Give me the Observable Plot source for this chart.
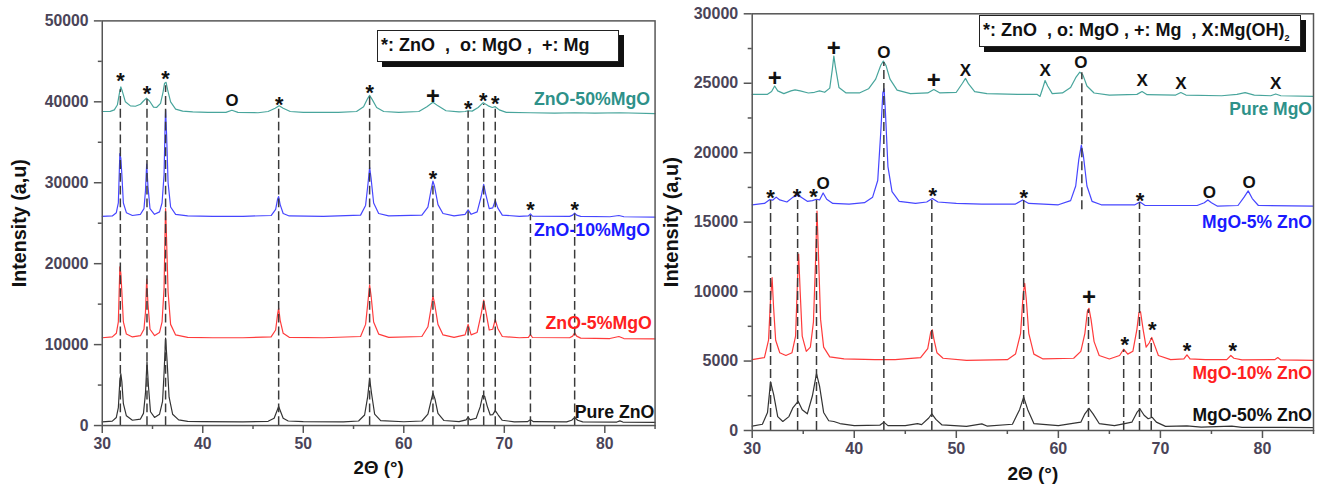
<!DOCTYPE html>
<html><head><meta charset="utf-8">
<script src="https://cdn.jsdelivr.net/npm/d3@7"></script>
<script src="https://cdn.jsdelivr.net/npm/@observablehq/plot@0.6"></script>
<style>
body{margin:0;background:#fff;}
#wrap{position:relative;width:1317px;height:488px;overflow:hidden;background:#fff;font-family:"Liberation Sans",Arial,sans-serif;}
#left{position:absolute;left:0;top:0;width:660px;height:488px;overflow:hidden;}
#right{position:absolute;left:660px;top:0;width:657px;height:488px;overflow:hidden;}
.legend{position:absolute;background:#fff;border:1.5px solid #222;box-shadow:5px 5px 0 #111;font-weight:bold;font-size:18px;color:#111;white-space:pre;box-sizing:border-box;padding-left:3px;line-height:29px;}
.legend sub{font-size:9px;vertical-align:-5px;line-height:0;}
</style></head><body>
<div id="wrap">
<div id="left"></div><div id="right"></div>
<div class="legend" style="left:377px;top:30px;width:242px;height:32px;">*: ZnO  ,  o: MgO ,  +: Mg</div>
<div class="legend" style="left:979px;top:15px;width:322px;height:32px;">*: ZnO  , o: MgO , +: Mg  , X:Mg(OH)<sub>2</sub></div>
</div>
<script>
// ---------- DATA ----------
const xTicks = [30, 40, 50, 60, 70, 80];
const xMinor = [35, 45, 55, 65, 75, 85];
const leftYTicks = [0, 10000, 20000, 30000, 40000, 50000];
const leftYMinor = [5000, 15000, 25000, 35000, 45000];
const rightYTicks = [0, 5000, 10000, 15000, 20000, 25000, 30000];
const rightYMinor = [2500, 7500, 12500, 17500, 22500, 27500];

// Left panel: ZnO-based samples [2θ, intensity]
const pureZnO = [[30,450],[31.0,550],[31.4,1000],[31.6,2200],[31.75,5500],[31.85,6400],[31.95,5400],[32.1,2700],[32.4,1200],[33.0,650],[33.8,800],[34.1,1500],[34.3,4000],[34.45,7900],[34.6,4800],[34.8,1700],[35.2,1000],[35.7,1400],[36.0,3000],[36.15,6500],[36.3,10800],[36.45,8000],[36.65,3500],[37.0,1400],[37.6,700],[38.5,520],[40,480],[44,460],[46.5,520],[47.1,900],[47.35,1700],[47.55,2350],[47.75,1700],[48.0,900],[48.5,560],[50,480],[54,460],[55.5,560],[56.1,1300],[56.4,3500],[56.6,5800],[56.8,3900],[57.1,1400],[57.7,600],[60,470],[61.8,560],[62.4,1400],[62.7,3000],[62.9,4000],[63.1,3300],[63.4,1500],[64,620],[65.5,480],[66.2,700],[66.4,1050],[66.6,700],[67.2,900],[67.6,2300],[67.85,3700],[68.05,3600],[68.3,2400],[68.6,1300],[68.85,1350],[69.1,1850],[69.4,1300],[69.8,650],[71,460],[72.3,480],[72.6,730],[72.9,480],[76.2,450],[76.7,650],[77.0,1000],[77.3,650],[77.8,450],[81.2,430],[81.5,580],[81.8,430],[85,400]];
const zno5MgO = [[30,10850],[31.0,10950],[31.4,11400],[31.6,12800],[31.75,19600],[31.85,18800],[31.95,16500],[32.1,12800],[32.4,11300],[33.0,10950],[33.8,11100],[34.15,11900],[34.3,14000],[34.42,18100],[34.55,15000],[34.75,11900],[35.2,11100],[35.7,11500],[35.95,12800],[36.15,17000],[36.25,24000],[36.3,26800],[36.4,23000],[36.55,16500],[36.8,12500],[37.3,11200],[38.5,10900],[41,10850],[44,10850],[46.8,10950],[47.25,11800],[47.45,13800],[47.55,14500],[47.7,13000],[48.0,11400],[48.6,10900],[52,10850],[55.7,11000],[56.2,12500],[56.45,15500],[56.6,17400],[56.75,16000],[57.0,12800],[57.5,11300],[58.5,10900],[61.8,11000],[62.4,12200],[62.75,14800],[62.9,16000],[63.05,15200],[63.4,12500],[63.9,11200],[65,10900],[66.1,11200],[66.4,12500],[66.7,11200],[67.3,11500],[67.7,13800],[67.95,15500],[68.15,14200],[68.5,11800],[68.85,11900],[69.1,13100],[69.35,12000],[69.8,11000],[71.5,10850],[72.4,10900],[72.6,11250],[72.8,10880],[76.5,10850],[76.8,11050],[77.0,11450],[77.2,11050],[77.6,10800],[80.5,10750],[81.4,11000],[81.9,10750],[85,10700]];
const zno10MgO = [[30,25850],[31.0,25900],[31.4,26300],[31.6,27500],[31.75,33600],[31.85,33000],[31.95,31000],[32.1,27500],[32.4,26300],[33.0,25950],[33.8,26100],[34.15,26800],[34.3,29000],[34.42,32300],[34.55,29500],[34.75,26800],[35.2,26100],[35.7,26400],[35.95,27500],[36.15,31000],[36.25,37000],[36.3,39000],[36.4,36000],[36.55,30000],[36.8,27000],[37.3,26100],[38.5,25900],[41,25850],[44,25850],[46.8,25950],[47.25,26700],[47.45,28000],[47.55,28300],[47.7,27300],[48.0,26200],[48.6,25900],[52,25850],[55.7,26000],[56.2,27200],[56.45,30000],[56.6,31900],[56.75,30500],[57.0,27500],[57.5,26200],[58.5,25900],[61.8,26000],[62.4,27000],[62.75,29300],[62.9,30200],[63.05,29600],[63.4,27300],[63.9,26200],[65,25900],[66.1,26100],[66.4,26650],[66.7,26100],[67.3,26400],[67.7,28300],[67.95,29800],[68.15,28600],[68.5,26800],[68.85,26900],[69.1,27800],[69.35,26900],[69.8,26000],[71.5,25850],[72.4,25900],[72.6,26150],[72.8,25880],[76.5,25850],[76.8,26000],[77.0,26250],[77.2,26000],[77.6,25850],[80.5,25800],[81.4,25950],[81.9,25800],[85,25750]];
const zno50MgO = [[30,38800],[30.8,38820],[31.2,39000],[31.5,39600],[31.7,41000],[31.85,41850],[32.0,41300],[32.3,40000],[32.8,39500],[33.3,39450],[33.8,39700],[34.1,40100],[34.4,40450],[34.7,40100],[35.1,39350],[35.4,39300],[35.8,39800],[36.05,41200],[36.2,42300],[36.35,42400],[36.5,41500],[36.8,40000],[37.3,39100],[38,38850],[39,38750],[40.5,38700],[42.3,38700],[42.9,38950],[43.5,38700],[45.5,38650],[46.5,38800],[47.2,39200],[47.6,39500],[48.0,39200],[48.7,38800],[50,38700],[53.5,38700],[55.3,38800],[56.0,39400],[56.4,40400],[56.6,40800],[56.85,40300],[57.3,39300],[58,38800],[59.5,38700],[61.5,38800],[62.3,39400],[62.9,39950],[63.4,39500],[64.2,38900],[65.5,38750],[66.1,38800],[66.4,38900],[66.8,38850],[67.4,39300],[67.9,39900],[68.4,39500],[68.8,39300],[69.1,39400],[69.5,39000],[70.2,38700],[72.6,38650],[75,38600],[77,38650],[79,38600],[81.5,38650],[85,38550]];

// Right panel: MgO-based samples
const mgo50ZnO = [[30,320],[31.0,450],[31.5,1300],[31.8,3500],[32.1,2600],[32.5,1000],[33.0,650],[33.6,1000],[34.0,1650],[34.5,2100],[34.9,1500],[35.4,1200],[35.9,2500],[36.3,4100],[36.6,3200],[37.0,1300],[37.5,700],[38.0,650],[38.6,500],[40,350],[42.5,380],[42.9,600],[43.3,350],[45,350],[46.2,500],[46.6,420],[47.3,900],[47.6,1200],[48.0,800],[48.6,400],[51,300],[52.5,480],[53,320],[55.5,450],[56.2,1500],[56.6,2400],[57.0,1500],[57.6,500],[60,350],[62.2,600],[62.6,1200],[63.0,1600],[63.4,1200],[64,500],[65.5,350],[66.5,500],[67.2,600],[67.7,1300],[68.0,1550],[68.4,1100],[68.8,850],[69.2,950],[69.6,600],[70.5,300],[72.6,330],[74,250],[77,320],[78,230],[82,230],[85,200]];
const mgo10ZnO = [[30,5100],[31.2,5250],[31.6,6500],[31.8,9500],[31.95,11000],[32.1,8800],[32.3,6500],[32.7,5600],[33.3,5400],[33.9,5600],[34.25,6800],[34.45,11000],[34.55,12700],[34.7,10000],[34.9,6800],[35.3,5700],[35.7,6000],[36.0,7800],[36.2,12000],[36.35,15800],[36.5,12500],[36.7,8000],[37.0,6000],[37.6,5300],[39,5150],[42,5100],[44,5100],[46.5,5250],[47.2,5900],[47.5,7100],[47.65,7250],[47.8,6600],[48.1,5600],[48.7,5200],[51,5050],[55,5100],[55.8,5500],[56.3,7000],[56.55,9800],[56.7,10600],[56.85,9500],[57.1,7000],[57.6,5500],[58.5,5150],[61.5,5200],[62.2,5700],[62.6,7000],[62.85,8600],[63.0,8800],[63.2,8000],[63.5,6400],[64.0,5400],[65,5150],[66.0,5400],[66.4,5850],[66.8,5500],[67.3,5700],[67.7,7300],[67.9,8500],[68.05,8550],[68.3,7300],[68.6,6000],[68.9,6300],[69.15,6700],[69.4,6200],[69.8,5400],[71,5100],[72.3,5150],[72.6,5450],[72.9,5150],[74.4,5100],[76.5,5100],[76.9,5400],[77.2,5200],[78,5080],[81.2,5100],[81.5,5250],[81.8,5080],[85,5050]];
const mgo5ZnO = [[30,16250],[31.2,16350],[31.7,16620],[32.0,16580],[32.35,16800],[32.7,16600],[33.4,16450],[34.0,16800],[34.4,16930],[34.8,16800],[35.4,16500],[35.9,16550],[36.3,16650],[36.6,16600],[36.95,17100],[37.3,16650],[37.9,16350],[39.5,16300],[41,16400],[41.8,16800],[42.3,18000],[42.6,21500],[42.8,24300],[42.92,24600],[43.05,23000],[43.3,19000],[43.7,17200],[44.4,16500],[46,16350],[47.1,16450],[47.65,16700],[48.2,16450],[50,16350],[52.5,16300],[55.8,16300],[56.5,16600],[57.1,16350],[60,16250],[61.2,16550],[61.7,17600],[62.0,19500],[62.25,20550],[62.45,19800],[62.8,17600],[63.3,16500],[64.2,16250],[67.5,16250],[68.0,16450],[68.5,16200],[73.6,16200],[74.3,16400],[74.65,16600],[75.0,16400],[75.6,16150],[77.6,16200],[78.2,16800],[78.6,17250],[79.0,16700],[79.6,16200],[85,16150]];
const pureMgO = [[30,24200],[31.5,24200],[31.9,24400],[32.2,24800],[32.5,24450],[33.1,24250],[33.8,24450],[34.2,24520],[34.7,24450],[35.5,24300],[36.1,24350],[36.6,24450],[37.1,24350],[37.6,24650],[37.85,26000],[38.0,26950],[38.15,26200],[38.5,24700],[39.2,24300],[40.5,24300],[41.4,24600],[42.1,25300],[42.6,26300],[42.85,26600],[43.1,26300],[43.5,25300],[44.2,24500],[45.5,24250],[47.2,24300],[47.8,24550],[48.4,24300],[50.0,24350],[50.6,25000],[50.9,25350],[51.2,24950],[51.8,24400],[53,24250],[56,24200],[57.9,24200],[58.2,24050],[58.45,24600],[58.7,25200],[58.95,24800],[59.4,24250],[60.4,24300],[61.2,24700],[61.7,25400],[62.1,25800],[62.4,25600],[62.8,24800],[63.5,24300],[65,24150],[67.7,24200],[68.2,24400],[68.7,24180],[71.5,24150],[72.0,24330],[72.5,24150],[76,24100],[77.5,24200],[78.3,24320],[79.2,24150],[80.8,24100],[81.3,24230],[81.8,24100],[85,24050]];

// Reference (dashed) lines
const leftRefX  = [31.8, 34.45, 36.3, 47.55, 56.6, 62.9, 66.4, 67.95, 69.1, 72.6, 77.0];
const leftRefLo = [0, 0, 0, 0, 0, 0, 0, 0, 0, 0, 0];
const leftRefHi = [41500, 40300, 42000, 39300, 40600, 29800, 38850, 39700, 39300, 25950, 26150];
const rightRefX  = [31.8, 34.45, 36.3, 42.9, 47.6, 56.6, 62.3, 62.95, 66.4, 67.95, 69.1];
const rightRefLo = [0, 0, 0, 0, 0, 0, 15900, 0, 0, 0, 0];
const rightRefHi = [16550, 16850, 16600, 26500, 16650, 16550, 25750, 8700, 5800, 16400, 6600];

// Phase symbols [symbol, 2θ, intensity]
const leftSymbols = [["*",31.8,43200],["*",34.45,41650],["*",36.3,43500],["O",42.9,40100],["*",47.6,40300],["*",56.6,41750],["+",62.9,40800],["*",66.4,39800],["*",67.9,40800],["*",69.1,40400],["*",62.9,31150],["*",72.6,27350],["*",77.0,27350]];
const rightSymbols = [["+",32.2,25400],["+",38.0,27560],["O",42.9,27180],["+",47.8,25260],["X",50.9,25930],["X",58.7,25930],["O",62.2,26460],["X",68.2,25200],["X",72.0,24950],["X",81.3,24980],
  ["*",31.8,17150],["*",34.4,17200],["*",36.0,17200],["O",36.95,17750],["*",47.7,17300],["*",56.6,17130],["*",68.0,16900],["O",74.8,17120],["O",78.7,17850],
  ["+",63.0,9640],["*",66.5,6580],["*",69.2,7600],["*",72.6,6100],["*",77.1,6100]];

// Sample labels [text, 2θ, intensity]
const leftLabels = [["ZnO-50%MgO",72.95,40340],["ZnO-10%MgO",72.95,24150],["ZnO-5%MgO",74.1,12670],["Pure ZnO",77.0,1580]];
const rightLabels = [["Pure MgO",84.85,23130],["MgO-5% ZnO",84.85,14980],["MgO-10% ZnO",84.85,4080],["MgO-50% ZnO",84.85,1080]];

const colors = {black: "#333333", red: "#ff3b3b", blue: "#4646ff", teal: "#48a59c"};
const labelColors = {black: "#111111", red: "#ff2020", blue: "#1a1aff", teal: "#2e9189"};
const leftSeries = [[pureZnO,"black"],[zno5MgO,"red"],[zno10MgO,"blue"],[zno50MgO,"teal"]];
const rightSeries = [[mgo50ZnO,"black"],[mgo10ZnO,"red"],[mgo5ZnO,"blue"],[pureMgO,"teal"]];
const leftLabelColors = ["teal","blue","red","black"];
const rightLabelColors = ["teal","blue","red","black"];

// ---------- CHART ----------
const FONT = '"Liberation Sans", Arial, sans-serif';
const intFmt = d3.format("d");
function panel(cfg) {
  const refs = cfg.refX.map((x, i) => ({x, lo: cfg.refLo[i], hi: cfg.refHi[i]}));
  const syms = cfg.symbols.map(([t, x, y]) => ({t, x, y}));
  const labs = cfg.labels.map(([t, x, y], i) => ({t, x, y, c: labelColors[cfg.labelColors[i]]}));
  return Plot.plot({
    width: cfg.width, height: 488,
    marginLeft: cfg.ml, marginRight: cfg.mr, marginTop: cfg.mt, marginBottom: cfg.mb,
    style: {fontFamily: FONT, background: "white", overflow: "hidden"},
    x: {domain: [30, 85]},
    y: {domain: cfg.ydomain},
    marks: [
      ...cfg.series.map(([d, c]) => Plot.line(d, {x: p => p[0], y: p => p[1], stroke: colors[c], strokeWidth: 1.2})),
      Plot.ruleX(refs, {x: "x", y1: "lo", y2: "hi", stroke: "#3a3a3a", strokeWidth: 1.5, strokeDasharray: "9,4"}),
      Plot.text(syms.filter(d => d.t === "*"), {x: "x", y: "y", text: "t", fontSize: 22, fontWeight: "bold", fill: "#111", dy: 5.5}),
      Plot.text(syms.filter(d => d.t === "+"), {x: "x", y: "y", text: "t", fontSize: 24, fontWeight: "bold", fill: "#111", dy: 1}),
      Plot.text(syms.filter(d => d.t === "O" || d.t === "X"), {x: "x", y: "y", text: "t", fontSize: 17, fontWeight: "bold", fill: "#111"}),
      Plot.text(labs, {x: "x", y: "y", text: "t", fill: "c", fontSize: cfg.labelSize, fontWeight: "bold", textAnchor: cfg.labelAnchor}),
      Plot.frame({stroke: "#555", strokeWidth: 1.5}),
      Plot.axisX({ticks: xTicks, tickSize: 8, tickPadding: 4, fontSize: 16, fontWeight: "bold", color: "#4a4458", stroke: "#555", strokeWidth: 1.5, label: null, tickFormat: intFmt}),
      Plot.axisX({ticks: xMinor, tickSize: 4, tickFormat: () => "", stroke: "#555", strokeWidth: 1.5, label: null}),
      Plot.axisY({ticks: cfg.yTicks, tickSize: 8, tickPadding: 6, fontSize: 16, fontWeight: "bold", color: "#4a4458", stroke: "#555", strokeWidth: 1.5, label: null, tickFormat: intFmt}),
      Plot.axisY({ticks: cfg.yMinor, tickSize: 4, tickFormat: () => "", stroke: "#555", strokeWidth: 1.5, label: null}),
      Plot.text(["Intensity (a,u)"], {frameAnchor: "left", dx: cfg.ylabDx, rotate: -90, textAnchor: "middle", lineAnchor: "middle", fontSize: 20, fontWeight: "bold", fill: "#111"}),
      Plot.text(["2Θ (°)"], {frameAnchor: "bottom", dy: 43, textAnchor: "middle", lineAnchor: "middle", fontSize: 19, fontWeight: "bold", fill: "#111"})
    ]
  });
}

document.getElementById("left").append(panel({
  width: 670, ml: 103.3, mr: 5.5, mt: 20.7, mb: 56.5,
  ydomain: [0, 50000], yTicks: leftYTicks, yMinor: leftYMinor,
  series: leftSeries, refX: leftRefX, refLo: leftRefLo, refHi: leftRefHi,
  symbols: leftSymbols, labels: leftLabels, labelColors: leftLabelColors, labelAnchor: "start", labelSize: 18, ylabDx: -84
}));
document.getElementById("right").append(panel({
  width: 657, ml: 91.7, mr: 4, mt: 13.3, mb: 58,
  ydomain: [0, 30000], yTicks: rightYTicks, yMinor: rightYMinor,
  series: rightSeries, refX: rightRefX, refLo: rightRefLo, refHi: rightRefHi,
  symbols: rightSymbols, labels: rightLabels, labelColors: rightLabelColors, labelAnchor: "end", labelSize: 17.5, ylabDx: -81
}));
</script>
</body></html>
